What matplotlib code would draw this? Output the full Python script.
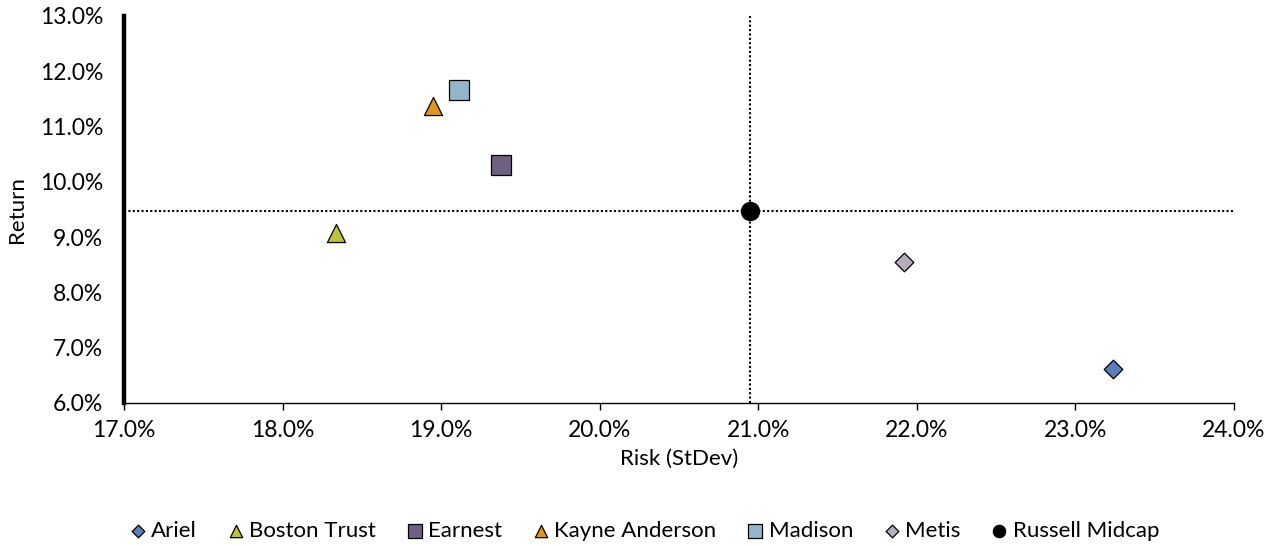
import numpy as np
import matplotlib.pyplot as plt
from matplotlib.ticker import FuncFormatter

plt.rcParams['font.family'] = ['Lato', 'DejaVu Sans']

# ===============================
# Data (risk / return, %)
# ===============================
names = ['Ariel', 'Boston Trust', 'Earnest', 'Kayne Anderson', 'Madison', 'Metis', 'Russell Midcap']
risk = [23.24, 18.34, 19.38, 18.95, 19.11, 21.92, 20.95]
ret = [6.61, 9.07, 10.30, 11.37, 11.66, 8.55, 9.47]

markers = ['D', '^', 's', '^', 's', 'D', 'o']
colors = ['#5B7DB8', '#BCC23C', '#6E6080', '#E0961E', '#93B5CA', '#B7AEBC', '#000000']
sizes = [90, 170, 200, 170, 200, 90, 170]

bench = 'Russell Midcap'

fig = plt.figure(figsize=(12.78, 5.46), dpi=100)
ax = fig.add_axes([0.097, 0.262, 0.8685, 0.709])

ib = names.index(bench)
dots = (0, (1, 1.1))
ax.axhline(ret[ib], color='black', linestyle=dots, linewidth=1.5, zorder=1)
ax.axvline(risk[ib], color='black', linestyle=dots, linewidth=1.5, zorder=1)

for n, x, y, m, c, sz in zip(names, risk, ret, markers, colors, sizes):
    ax.scatter(x, y, marker=m, s=sz, color=c, edgecolors='black', linewidths=0.9,
               label=n, zorder=3)

ax.set_xlim(17, 24)
ax.set_ylim(6, 13)
ax.set_xticks(np.arange(17, 24.01, 1))
ax.set_yticks(np.arange(6, 13.01, 1))
pct = FuncFormatter(lambda v, p: f"{v:.1f}%")
ax.xaxis.set_major_formatter(pct)
ax.yaxis.set_major_formatter(pct)

for s in ['top', 'right']:
    ax.spines[s].set_visible(False)
ax.spines['left'].set_linewidth(3.2)
ax.spines['bottom'].set_linewidth(1.0)
ax.tick_params(axis='x', length=5, width=1, labelsize=16.5, pad=7)
ax.tick_params(axis='y', length=0, labelsize=16.5, pad=15)

ax.set_xlabel('Risk (StDev)', fontsize=16, labelpad=6)
ax.set_ylabel('Return', fontsize=16, labelpad=9)

ax.legend(loc='center', bbox_to_anchor=(0.469, -0.33), ncol=7, frameon=False,
          fontsize=16, handlelength=0.7, handletextpad=0.25, columnspacing=1.4,
          markerscale=0.68, borderaxespad=0)

plt.savefig('out.png', dpi=100)
